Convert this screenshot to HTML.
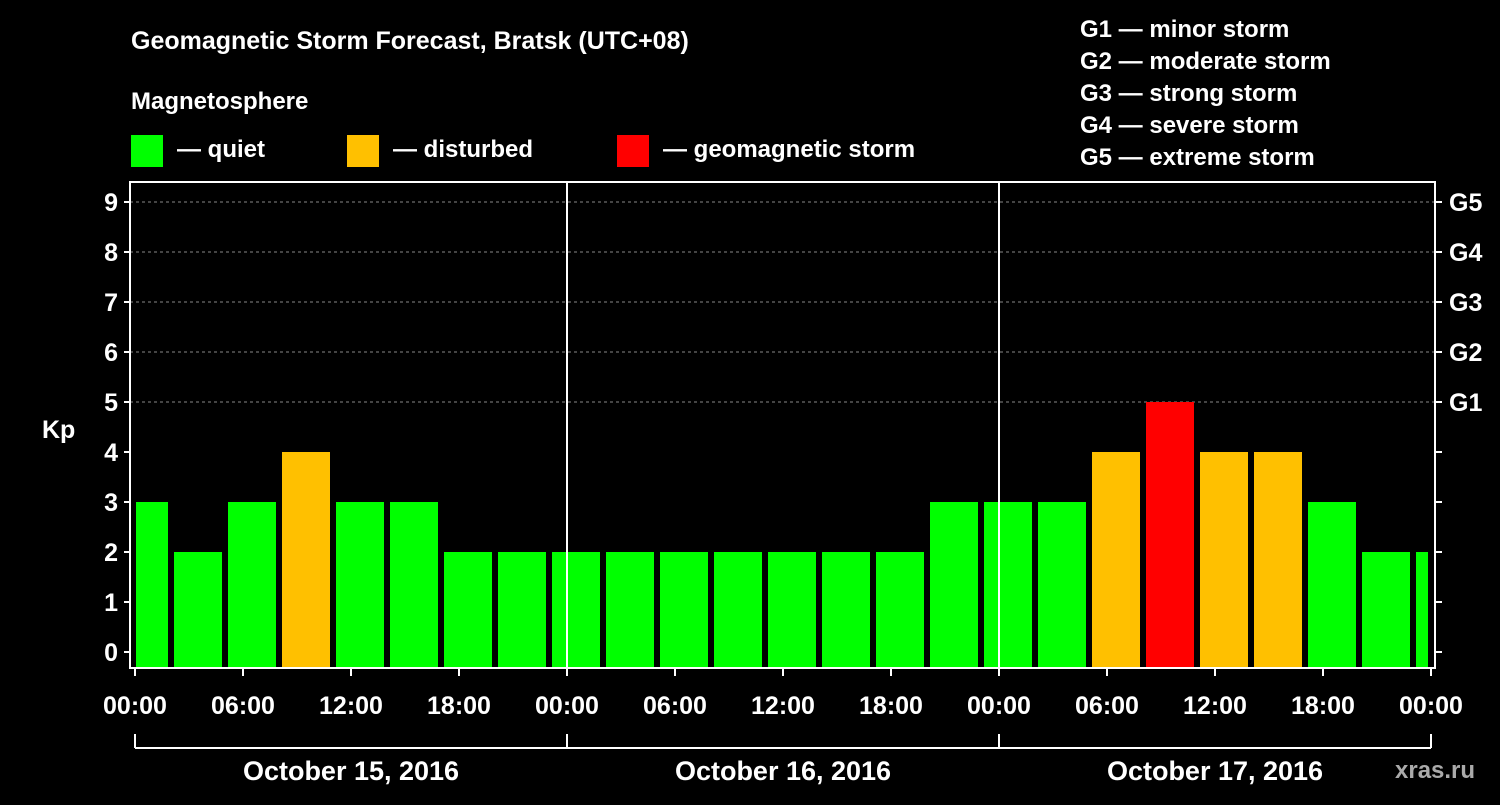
<!DOCTYPE html>
<html><head><meta charset="utf-8"><style>
body{margin:0;background:#000;width:1500px;height:800px;overflow:hidden}
svg text{font-family:"Liberation Sans",sans-serif;font-weight:bold;fill:#fff}
</style></head><body>
<svg id="c" width="1500" height="800">
<text x="131" y="49" font-size="25">Geomagnetic Storm Forecast, Bratsk (UTC+08)</text>
<text x="131" y="109" font-size="24">Magnetosphere</text>
<g><rect x="131" y="135" width="32" height="32" fill="#00ff00"/><text x="177" y="157" font-size="24">— quiet</text></g>
<g><rect x="347" y="135" width="32" height="32" fill="#ffc000"/><text x="393" y="157" font-size="24">— disturbed</text></g>
<g><rect x="617" y="135" width="32" height="32" fill="#ff0000"/><text x="663" y="157" font-size="24">— geomagnetic storm</text></g>
<g font-size="24">
<text x="1080" y="37">G1 — minor storm</text><text x="1080" y="69">G2 — moderate storm</text><text x="1080" y="101">G3 — strong storm</text><text x="1080" y="133">G4 — severe storm</text><text x="1080" y="165">G5 — extreme storm</text></g>
<text x="42" y="438" font-size="25">Kp</text>
<text x="1395" y="778" font-size="24" fill="#aaa" style="fill:#aaa">xras.ru</text>
<g id="plot"></g>
</svg>
<script>
const kpValues=[3,2,3,4,3,3,2,2,2,2,2,2,2,2,2,3,3,3,4,5,4,4,3,2,2];
const kpTicks=[0,1,2,3,4,5,6,7,8,9];
const gLabels=["G1","G2","G3","G4","G5"];
const timeLabels=["00:00","06:00","12:00","18:00"];
const dayLabels=["October 15, 2016","October 16, 2016","October 17, 2016"];
const X0=135,PX_H=18,Y0=652,PX_K=50,TOP=182,BOT=668,L=130,R=1435;
const x=h=>X0+h*PX_H, y=k=>Y0-k*PX_K;
const g=document.getElementById('plot'),NS="http://www.w3.org/2000/svg";
function mk(t,a,p){const e=document.createElementNS(NS,t);for(const k in a)e.setAttribute(k,a[k]);(p||g).appendChild(e);return e;}
const totalH=dayLabels.length*24;
// gridlines
kpTicks.filter(k=>k>=5).forEach(k=>{const e=mk('line',{x1:L,x2:R,y1:y(k),y2:y(k),stroke:'#888','stroke-dasharray':'3,3'});

});
// bars
kpValues.forEach((v,i)=>{const h0=-1+3*i;let a=x(h0)+3,b=x(h0+3)-3;a=Math.max(a,x(0)+1);b=Math.min(b,x(totalH)-3);
const col=v>=5?'#ff0000':v>=4?'#ffc000':'#00ff00';
const e=mk('rect',{x:a,y:y(v),width:b-a,height:BOT-y(v),fill:col});

});
// frame
const f=mk('rect',{x:L,y:TOP,width:R-L,height:BOT-TOP,fill:'none',stroke:'#fff','stroke-width':2});


for(let d=1;d<dayLabels.length;d++){const e=mk('line',{x1:x(24*d),x2:x(24*d),y1:TOP,y2:BOT,stroke:'#fff','stroke-width':2});

}
// y ticks
kpTicks.forEach(k=>{mk('line',{x1:L-6,x2:L,y1:y(k),y2:y(k),stroke:'#fff','stroke-width':2});mk('line',{x1:R,x2:R+7,y1:y(k),y2:y(k),stroke:'#fff','stroke-width':2});
const t=mk('text',{x:L-12,y:y(k)+9,'font-size':25,'text-anchor':'end'});t.textContent=k;

});
gLabels.forEach((s,i)=>{const t=mk('text',{x:R+14,y:y(5+i)+9,'font-size':25});t.textContent=s;

});
// x ticks
for(let h=0;h<=totalH;h+=6){mk('line',{x1:x(h),x2:x(h),y1:BOT,y2:BOT+8,stroke:'#fff','stroke-width':2});
const t=mk('text',{x:x(h),y:714,'font-size':25,'text-anchor':'middle'});t.textContent=timeLabels[(h/6)%4];

}
// day bracket
mk('line',{x1:x(0),x2:x(totalH),y1:748,y2:748,stroke:'#fff','stroke-width':2});
for(let d=0;d<=dayLabels.length;d++)mk('line',{x1:x(24*d),x2:x(24*d),y1:734,y2:748,stroke:'#fff','stroke-width':2});
dayLabels.forEach((s,d)=>{const t=mk('text',{x:x(24*d+12),y:780,'font-size':27,'text-anchor':'middle'});t.textContent=s;

});
</script>
</body></html>
